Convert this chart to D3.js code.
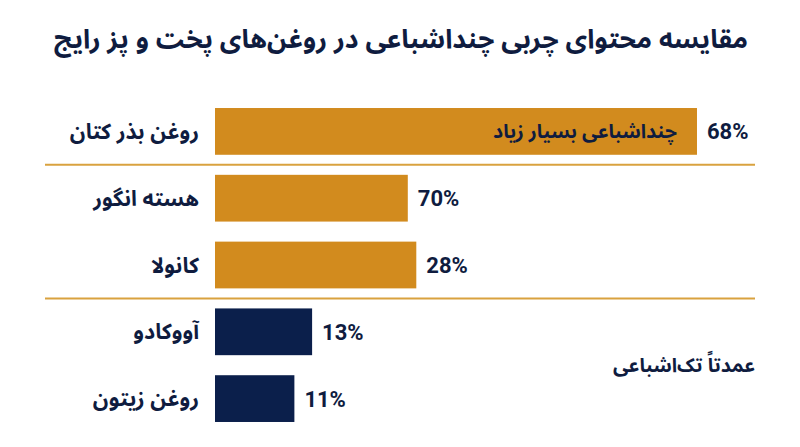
<!DOCTYPE html>
<html lang="fa">
<head>
<meta charset="utf-8">
<script src="https://cdn.jsdelivr.net/npm/d3@7"></script>
<style>
  html, body { margin: 0; padding: 0; background: #fff; }
  svg { display: block; }
  .fa { font-family: "Noto Sans Arabic", "Noto Sans", "DejaVu Sans", sans-serif; font-weight: 700; fill: #0f1c3f; }
  .num { font-family: Roboto, "Noto Sans", sans-serif; font-weight: 700; fill: #0f1c3f; }
</style>
</head>
<body>
<div id="chart"></div>
<script>
// داده‌ها
const titleText = "مقایسه محتوای چربی چنداشباعی در روغن‌های پخت و پز رایج";
const oils = ["روغن بذر کتان", "هسته انگور", "کانولا", "آووکادو", "روغن زیتون"];
const barValues = [68, 27.2, 28.4, 13.7, 11.2];   // طول میله‌ها آن‌طور که در تصویر است
const valueLabels = ["68%", "70%", "28%", "13%", "11%"];
const groups = ["poly", "poly", "poly", "mono", "mono"];
const groupColors = { poly: "#d28b1e", mono: "#0b1f4b" };
const separatorsAfter = [0, 2];  // خط جداکننده بعد از این ردیف‌ها
const notes = [
  { row: 0, text: "چنداشباعی بسیار زیاد", inside: true },
  { row: 3.5, text: "عمدتاً تک‌اشباعی", inside: false }
];

const width = 800, height = 447;

const svg = d3.select("#chart").append("svg")
  .attr("width", width)
  .attr("height", height);

const x = d3.scaleLinear().domain([0, 100]).range([215, 215 + 708.8]);
const y = d3.scaleBand().domain(d3.range(oils.length)).range([98, 432])
  .paddingInner(0.3).paddingOuter(0.15);

// عنوان
svg.append("text")
  .attr("class", "fa")
  .attr("x", 401).attr("y", 48)
  .attr("text-anchor", "middle")
  .attr("direction", "rtl")
  .style("font-size", "26.5px")
  .text(titleText);

// خطوط جداکننده
svg.selectAll(".sep")
  .data(separatorsAfter)
  .enter().append("line")
    .attr("class", "sep")
    .attr("x1", 45).attr("x2", 755)
    .attr("y1", i => y(i) + y.bandwidth() + y.step() * y.paddingInner() / 2)
    .attr("y2", i => y(i) + y.bandwidth() + y.step() * y.paddingInner() / 2)
    .attr("stroke", "#d9a23f")
    .attr("stroke-width", 2);

// میله‌ها
svg.selectAll(".bar")
  .data(barValues)
  .enter().append("rect")
    .attr("class", "bar")
    .attr("x", x(0))
    .attr("y", (d, i) => y(i))
    .attr("width", d => x(d) - x(0))
    .attr("height", y.bandwidth())
    .attr("fill", (d, i) => groupColors[groups[i]]);

// برچسب روغن‌ها
svg.selectAll(".cat")
  .data(oils)
  .enter().append("text")
    .attr("class", "fa cat")
    .attr("x", x(0) - 16)
    .attr("y", (d, i) => y(i) + y.bandwidth() / 2)
    .attr("dy", "0.35em")
    .attr("text-anchor", "start")
    .attr("direction", "rtl")
    .style("font-size", "21.5px")
    .text(d => d);

// برچسب مقدار
svg.selectAll(".val")
  .data(valueLabels)
  .enter().append("text")
    .attr("class", "num val")
    .attr("x", (d, i) => x(barValues[i]) + 10)
    .attr("y", (d, i) => y(i) + y.bandwidth() / 2)
    .attr("dy", "0.36em")
    .style("font-size", "22px")
    .text(d => d);

// یادداشت‌ها
notes.forEach(n => {
  const cy = y(Math.floor(n.row)) + y.bandwidth() / 2 + (n.row % 1) * y.step();
  svg.append("text")
    .attr("class", "fa")
    .attr("x", n.inside ? x(barValues[n.row]) - 20 : 755)
    .attr("y", cy)
    .attr("dy", "0.35em")
    .attr("text-anchor", "start")
    .attr("direction", "rtl")
    .style("font-size", "19.5px")
    .text(n.text);
});
</script>
</body>
</html>
